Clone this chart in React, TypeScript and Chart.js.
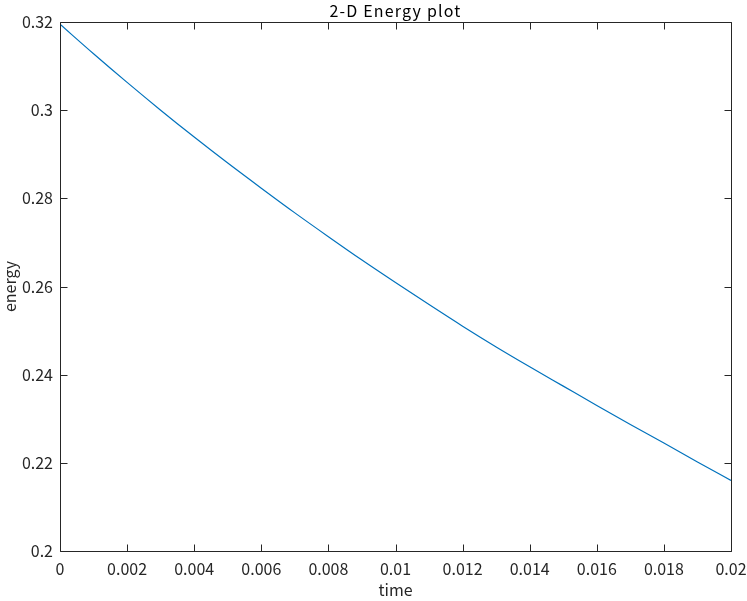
import React, { useEffect, useRef } from "react";
import { Chart, registerables } from "chart.js";

Chart.register(...registerables);

const times = [0, 0.001, 0.002, 0.003, 0.004, 0.005, 0.006, 0.007, 0.008, 0.009, 0.01, 0.011, 0.012, 0.013, 0.014, 0.015, 0.016, 0.017, 0.018, 0.019, 0.02];
const energy = [0.3195, 0.3128, 0.3063, 0.3000, 0.2939, 0.2880, 0.2823, 0.2767, 0.2713, 0.2660, 0.2609, 0.2559, 0.2510, 0.2463, 0.2418, 0.2374, 0.2330, 0.2287, 0.2245, 0.2202, 0.2160];
const xTicks = [0, 0.002, 0.004, 0.006, 0.008, 0.01, 0.012, 0.014, 0.016, 0.018, 0.02];
const yTicks = [0.2, 0.22, 0.24, 0.26, 0.28, 0.3, 0.32];

const FONT = "'Noto Sans CJK JP', 'Noto Sans', sans-serif";
const AXIS = "#262626";

const boxPlugin = {
  id: "matlabBox",
  afterDraw(chart: any) {
    const { ctx, chartArea: a } = chart;
    ctx.save();
    ctx.strokeStyle = AXIS;
    ctx.lineWidth = 1;
    const L = Math.round(a.left) + 0.5;
    const R = Math.round(a.right) + 0.5;
    const T = Math.round(a.top) + 0.5;
    const B = Math.round(a.bottom) + 0.5;
    ctx.beginPath();
    ctx.rect(L, T, R - L, B - T);
    const tl = 7;
    const xs = chart.scales.x;
    xs.ticks.forEach((t: any) => {
      const px = Math.round(xs.getPixelForValue(t.value)) + 0.5;
      ctx.moveTo(px, B);
      ctx.lineTo(px, B - tl);
      ctx.moveTo(px, T);
      ctx.lineTo(px, T + tl);
    });
    const ys = chart.scales.y;
    ys.ticks.forEach((t: any) => {
      const py = Math.round(ys.getPixelForValue(t.value)) + 0.5;
      ctx.moveTo(L, py);
      ctx.lineTo(L + tl, py);
      ctx.moveTo(R, py);
      ctx.lineTo(R - tl, py);
    });
    ctx.stroke();
    ctx.fillStyle = "#000";
    ctx.font = `16px ${FONT}`;
    (ctx as any).letterSpacing = "1.2px";
    ctx.textAlign = "center";
    ctx.textBaseline = "middle";
    ctx.fillText("2-D Energy plot", (a.left + a.right) / 2, 11);
    ctx.restore();
  },
};

export default function App() {
  const ref = useRef<HTMLCanvasElement>(null);
  useEffect(() => {
    document.body.style.margin = "0";
    const chart = new Chart(ref.current!, {
      type: "line",
      data: {
        datasets: [
          {
            data: times.map((t, i) => ({ x: t, y: energy[i] })),
            borderColor: "#0072BD",
            borderWidth: 1.2,
            pointRadius: 0,
            cubicInterpolationMode: "monotone",
            fill: false,
          },
        ],
      },
      options: {
        responsive: false,
        animation: false,
        layout: { padding: { top: 22, right: 16, left: 0, bottom: 0 } },
        plugins: { legend: { display: false }, tooltip: { enabled: false }, title: { display: false } },
        scales: {
          x: {
            type: "linear",
            min: 0,
            max: 0.02,
            afterFit: (s: any) => { s.height = 50; s.paddingLeft = 0; s.paddingRight = 0; },
            afterBuildTicks: (s: any) => { s.ticks = xTicks.map((v) => ({ value: v })); },
            grid: { display: false, drawTicks: false },
            border: { display: false },
            ticks: {
              color: "#262626",
              font: { family: FONT, size: 16 },
              padding: 8,
              maxRotation: 0,
              autoSkip: false,
              callback: (v: any) => String(Number(v)),
            },
            title: { display: true, text: "time", color: "#262626", font: { family: FONT, size: 16 }, padding: { top: 0, bottom: 1 } },
          },
          y: {
            type: "linear",
            min: 0.2,
            max: 0.32,
            afterFit: (s: any) => { s.width = 60; s.paddingTop = 0; s.paddingBottom = 0; },
            afterBuildTicks: (s: any) => { s.ticks = yTicks.map((v) => ({ value: v })); },
            grid: { display: false, drawTicks: false },
            border: { display: false },
            ticks: {
              color: "#262626",
              font: { family: FONT, size: 16 },
              padding: 7,
              autoSkip: false,
              callback: (v: any) => String(Number(Number(v).toFixed(4))),
            },
            title: { display: true, text: "energy", color: "#262626", font: { family: FONT, size: 16 }, padding: { top: 0, bottom: 0 } },
          },
        },
      },
      plugins: [boxPlugin],
    });
    return () => chart.destroy();
  }, []);
  return <canvas ref={ref} width={747} height={601} style={{ display: "block" }} />;
}
